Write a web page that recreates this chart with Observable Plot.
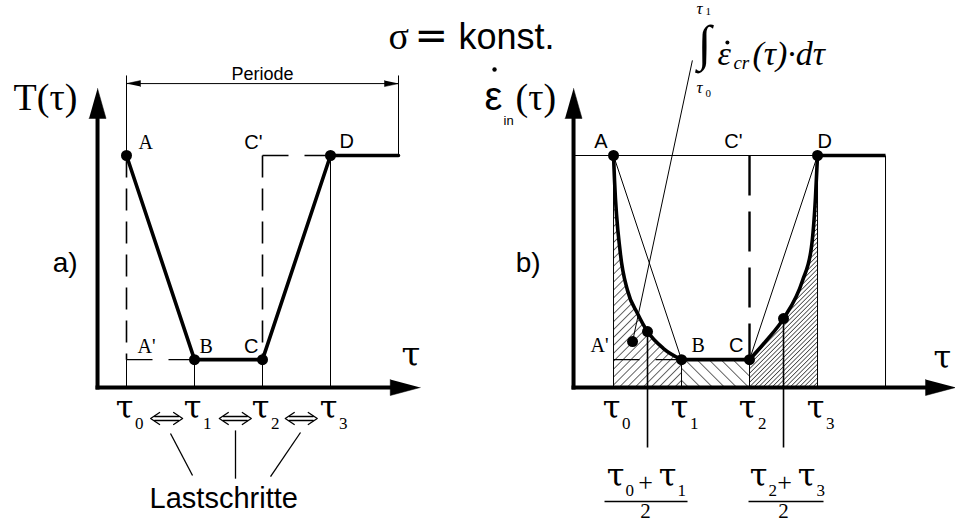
<!DOCTYPE html>
<html>
<head>
<meta charset="utf-8">
<script src="https://cdn.jsdelivr.net/npm/d3@7"></script>
<script src="https://cdn.jsdelivr.net/npm/@observablehq/plot@0.6"></script>
<style>
  body { margin: 0; background: #fff; }
  #chart { width: 955px; height: 522px; }
</style>
</head>
<body>
<div id="chart"></div>
<script>
// ---------- data ----------
// load step boundaries τ0 … τ3 and the end of one load period
const tauSteps = [0, 1, 2, 3];
const tauSubs = ["0", "1", "2", "3"];
const periodEnd = 4;

// temperature levels (normalised): high at A/D, low at B/C
const levelHigh = 1;
const levelLow = 0.12;

// corner points of the temperature cycle
const corners = ["A", "B", "C", "D"];
const cornerTau = [0, 1, 2, 3];
const cornerLevel = [1, 0.12, 0.12, 1];

// inelastic strain rate while cooling (τ0 → τ1)
const fallTau = [0, 0.015, 0.10, 0.206, 0.353, 0.5, 0.735, 1];
const fallRate = [1, 0.892, 0.58, 0.418, 0.319, 0.241, 0.168, 0.12];
// inelastic strain rate while heating (τ2 → τ3)
const riseTau = [2, 2.25, 2.5, 2.78, 2.91, 2.97, 3];
const riseRate = [0.12, 0.203, 0.297, 0.461, 0.603, 0.819, 1];

// point A' where the integral leader ends
const primeTau = 0.28;
const primeRate = 0.198;

// ---------- layout ----------
const W = 955, H = 522;
const PXT = 68, PXV = 232;           // pixels per load step / per unit level
const ORIGIN_X = 126, ORIGIN_Y = 387; // τ0 and the time axis of panel a
const shift = {a: 0, b: 7.162};       // τ origin of each panel
const axisGap = {a: 0.426, b: 0.588}; // ordinate sits left of τ0
const axisTop = 1.289;
const xTip = {a: 4.32, b: 5.03};
const dimY = 1.31, extTop = 1.345;

const SERIF = "'Liberation Serif', 'Times New Roman', serif";
const TAU = "'DejaVu Serif', serif";
const SANS = "'Liberation Sans', Arial, sans-serif";
const sx = px => px / PXT, sy = px => px / PXV;

const hi = levelHigh, lo = levelLow;
const mid1 = fallTau.indexOf(0.5), mid2 = riseTau.indexOf(2.5);

// filled arrow head, direction given in screen space
let headId = 0;
function head(tx, ty, dx, dy, len, half) {
  const id = headId++;
  const bx = tx - dx * len / PXT, by = ty + dy * len / PXV;
  const px = -dy * half / PXT, py = dx * half / PXV;
  return [
    {id, x: tx, y: ty},
    {id, x: bx + px, y: by - py},
    {id, x: bx - px, y: by + py}
  ];
}

const label = (x, y, text, o = {}) =>
  Plot.text([{x, y, text}], {x: "x", y: "y", text: "text", fill: "black", lineAnchor: "bottom", ...o});
const links = (segs, o = {}) =>
  Plot.link(segs, {x1: "x1", y1: "y1", x2: "x2", y2: "y2", stroke: "black", strokeWidth: 1, ...o});
const S = (x1, y1, x2, y2) => ({x1, y1, x2, y2});

// ---------- geometry ----------
const axes = [], heads = [], thin = [], dashA = [], dashB = [];
for (const p of ["a", "b"]) {
  const o = shift[p], ax = o - axisGap[p];
  axes.push(S(ax, 0, ax, axisTop - sy(28)), S(ax, 0, o + xTip[p] - sx(28), 0));
  heads.push(...head(ax, axisTop, 0, -1, 30, 8.5), ...head(o + xTip[p], 0, 1, 0, 30, 8));
}

// panel a
const oa = shift.a;
thin.push(
  S(oa + 0, extTop, oa + 0, hi), S(oa + periodEnd, extTop, oa + periodEnd, hi),
  S(oa + 0, dimY, oa + periodEnd, dimY),
  S(oa + 0, lo, oa + 0, 0), S(oa + 1, lo, oa + 1, 0), S(oa + 2, lo, oa + 2, 0), S(oa + 3, hi, oa + 3, 0)
);
heads.push(...head(oa + 0, dimY, -1, 0, 14, 3), ...head(oa + periodEnd, dimY, 1, 0, 14, 3));
dashA.push(S(oa + 0, hi, oa + 0, lo), S(oa + 2, hi, oa + 2, lo));
const dashH = [S(oa + 0, lo, oa + 1, lo), S(oa + 2, hi, oa + 3, hi)];

// panel b
const ob = shift.b;
thin.push(
  S(ob - axisGap.b, hi, ob + 3, hi),
  S(ob + 0, hi, ob + 0, 0), S(ob + 1, lo, ob + 1, 0), S(ob + 2, lo, ob + 2, 0),
  S(ob + 3, hi, ob + 3, 0), S(ob + periodEnd, hi, ob + periodEnd, 0),
  S(ob + 0, hi, ob + 1, lo), S(ob + 2, lo, ob + 3, hi),
  S(ob + 1.16, 1.41, ob + primeTau, primeRate)
);
dashH.push(S(ob + 0, lo, ob + 1, lo));
dashB.push(S(ob + 2, hi, ob + 2, lo));
const midLeaders = [
  S(ob + fallTau[mid1], fallRate[mid1], ob + fallTau[mid1], -sy(60)),
  S(ob + riseTau[mid2], riseRate[mid2], ob + riseTau[mid2], -sy(60))
];

// panel a: thick temperature path
const tempPath = cornerTau.map((t, i) => ({x: oa + t, y: cornerLevel[i]}))
  .concat([{x: oa + periodEnd, y: hi}]);
const cornerDots = [];
for (const o of [oa, ob]) cornerTau.forEach((t, i) => cornerDots.push({x: o + t, y: cornerLevel[i]}));
cornerDots.push(
  {x: ob + fallTau[mid1], y: fallRate[mid1]},
  {x: ob + riseTau[mid2], y: riseRate[mid2]},
  {x: ob + primeTau, y: primeRate}
);

const fall = fallTau.map((t, i) => ({x: ob + t, y: fallRate[i]}));
const rise = riseTau.map((t, i) => ({x: ob + t, y: riseRate[i]}));
const flatB = [S(ob + 1, lo, ob + 2, lo), S(ob + 3, hi, ob + periodEnd, hi)];

// load-step double arrows ⇔ between the τ labels
const stepArrowTau = [0.59, 1.60, 2.57];
const arrowShape = [
  [[-7, -6], [-16, 0], [-7, 6]],
  [[7, -6], [16, 0], [7, 6]],
  [[-12, -2], [12, -2]],
  [[-12, 2], [12, 2]]
];
const dblArrows = [];
let sid = 0;
for (const t of stepArrowTau) for (const part of arrowShape) {
  const id = sid++;
  for (const [px, py] of part) dblArrows.push({id, x: oa + t + sx(px), y: -sy(31) - sy(py)});
}
const stepLeaders = [
  S(oa + 0.647, -0.198, oa + 0.971, -0.379),
  S(oa + 1.603, -0.185, oa + 1.603, -0.393),
  S(oa + 2.559, -0.194, oa + 2.118, -0.384)
];

// fraction bars
const fracBars = [
  S(ob + 0.5 - sx(43), -sy(114), ob + 0.5 + sx(40), -sy(114)),
  S(ob + 2.5 - sx(35), -sy(114), ob + 2.5 + sx(40), -sy(114))
];

// ---------- text ----------
const texts = [];
{
  const ax = oa - axisGap.a;
  texts.push(
    label(ax, axisTop, "T(τ)", {fontFamily: SERIF, fontSize: 38, textAnchor: "start", dx: -84, dy: 22}),
    label(ax, 0.5, "a)", {fontFamily: SANS, fontSize: 28, textAnchor: "end", dx: -20}),
    label(oa + 2, dimY, "Periode", {fontFamily: SANS, fontSize: 18, dy: -4}),
    label(oa + 0, hi, corners[0], {fontFamily: SERIF, fontSize: 20, textAnchor: "start", dx: 12, dy: -7}),
    label(oa + 2, hi, "C'", {fontFamily: SANS, fontSize: 20, textAnchor: "end", dx: 0, dy: -7}),
    label(oa + 3, hi, corners[3], {fontFamily: SANS, fontSize: 20, textAnchor: "start", dx: 9, dy: -8}),
    label(oa + 0, lo, "A'", {fontFamily: SERIF, fontSize: 20, textAnchor: "start", dx: 11, dy: -7}),
    label(oa + 1, lo, corners[1], {fontFamily: SERIF, fontSize: 20, textAnchor: "start", dx: 5, dy: -7}),
    label(oa + 2, lo, corners[2], {fontFamily: SANS, fontSize: 20, textAnchor: "end", dx: -4, dy: -7}),
    label(oa + xTip.a, 0, "τ", {fontFamily: TAU, fontSize: 34, textAnchor: "end", dy: -22}),
    label(oa + 1.43, 0, "Lastschritte", {fontFamily: SANS, fontSize: 29, dy: 120})
  );
}
{
  const ax = ob - axisGap.b;
  texts.push(
    label(ax, axisTop, "ε", {fontFamily: SANS, fontSize: 40, textAnchor: "start", dx: -89, dy: 22}),
    label(ax, axisTop, "in", {fontFamily: SANS, fontSize: 13, textAnchor: "start", dx: -70, dy: 37}),
    label(ax, axisTop, "(τ)", {fontFamily: SERIF, fontSize: 38, textAnchor: "start", dx: -58, dy: 22}),
    label(ax, 0.5, "b)", {fontFamily: SANS, fontSize: 28, textAnchor: "end", dx: -33}),
    label(ob + 0, hi, corners[0], {fontFamily: SANS, fontSize: 20, textAnchor: "end", dx: -6, dy: -8}),
    label(ob + 2, hi, "C'", {fontFamily: SANS, fontSize: 20, textAnchor: "end", dx: -7, dy: -8}),
    label(ob + 3, hi, corners[3], {fontFamily: SANS, fontSize: 20, textAnchor: "start", dx: 0, dy: -8}),
    label(ob + 0, lo, "A'", {fontFamily: SERIF, fontSize: 20, textAnchor: "end", dx: -5, dy: -8}),
    label(ob + 1, lo, corners[1], {fontFamily: SERIF, fontSize: 20, textAnchor: "start", dx: 10, dy: -8}),
    label(ob + 2, lo, corners[2], {fontFamily: SANS, fontSize: 20, textAnchor: "end", dx: -6, dy: -8}),
    label(ob + xTip.b, 0, "τ", {fontFamily: TAU, fontSize: 32, textAnchor: "start", dx: -22, dy: -20})
  );
  // fractions (τ0+τ1)/2 and (τ2+τ3)/2
  const fr = (c, a, b, offs) => [
    label(c, 0, "τ", {fontFamily: TAU, fontSize: 32, dx: offs[0], dy: 98}),
    label(c, 0, a, {fontFamily: SERIF, fontSize: 17, textAnchor: "start", dx: offs[1], dy: 108}),
    label(c, 0, "+", {fontFamily: SERIF, fontSize: 26, dx: offs[2], dy: 103}),
    label(c, 0, "τ", {fontFamily: TAU, fontSize: 32, dx: offs[3], dy: 98}),
    label(c, 0, b, {fontFamily: SERIF, fontSize: 17, textAnchor: "start", dx: offs[4], dy: 108}),
    label(c, 0, "2", {fontFamily: SERIF, fontSize: 21, dx: offs[5], dy: 130})
  ];
  texts.push(...fr(ob + 0.5, tauSubs[0], tauSubs[1], [-32, -22, -2, 20, 30, -2]));
  texts.push(...fr(ob + 2.5, tauSubs[2], tauSubs[3], [-25, -15, 1, 23, 33, 0]));
  // integral of the creep rate between τ0 and τ1
  const ix = ob + 1.16, iy = 1.41;
  texts.push(
    label(ix, iy, "∫", {fontFamily: SERIF, fontSize: 50, dx: 12, dy: 0}),
    label(ix, iy, "τ", {fontFamily: SERIF, fontStyle: "italic", fontSize: 17, textAnchor: "start", dx: 4, dy: -46}),
    label(ix, iy, tauSubs[1], {fontFamily: SERIF, fontSize: 11, textAnchor: "start", dx: 13, dy: -45}),
    label(ix, iy, "τ", {fontFamily: SERIF, fontStyle: "italic", fontSize: 17, textAnchor: "start", dx: 4, dy: 33}),
    label(ix, iy, tauSubs[0], {fontFamily: SERIF, fontSize: 11, textAnchor: "start", dx: 13, dy: 37}),
    label(ix, iy, "ε", {fontFamily: SERIF, fontStyle: "italic", fontSize: 34, textAnchor: "start", dx: 25, dy: 5}),
    label(ix, iy, "cr", {fontFamily: SERIF, fontStyle: "italic", fontSize: 19, textAnchor: "start", dx: 41, dy: 9}),
    label(ix, iy, "(τ)·dτ", {fontFamily: SERIF, fontStyle: "italic", fontSize: 34, textAnchor: "start", dx: 60, dy: 5}),
    Plot.dot([{x: ix, y: iy}], {x: "x", y: "y", r: 2, fill: "black", dx: 35, dy: -18}),
    Plot.dot([{x: ax, y: axisTop}], {x: "x", y: "y", r: 2.2, fill: "black", dx: -79, dy: -19})
  );
}
// τ labels under both time axes
for (const o of [oa, ob]) tauSteps.forEach((t, i) => {
  texts.push(
    label(o + t, 0, "τ", {fontFamily: TAU, fontSize: 32, dx: -2, dy: 30}),
    label(o + t, 0, tauSubs[i], {fontFamily: SERIF, fontSize: 17, textAnchor: "start", dx: 8.5, dy: 41})
  );
});
// constant stress
texts.push(
  label(oa + periodEnd, axisTop, "σ", {fontFamily: SERIF, fontSize: 38, textAnchor: "start", dx: -10, dy: -39}),
  label(oa + periodEnd, axisTop, "=", {fontFamily: "'DejaVu Sans'", fontSize: 40, textAnchor: "start", dx: 16, dy: -39}),
  label(oa + periodEnd, axisTop, "konst.", {fontFamily: SANS, fontSize: 36, textAnchor: "start", dx: 60, dy: -39})
);

// ---------- plot ----------
const xy = {x: "x", y: "y"};
const svg = Plot.plot({
  width: W, height: H,
  margin: 0,
  x: {domain: [-ORIGIN_X / PXT, (W - ORIGIN_X) / PXT], axis: null},
  y: {domain: [(ORIGIN_Y - H) / PXV, ORIGIN_Y / PXV], axis: null},
  style: {background: "white", overflow: "visible"},
  marks: [
    // hatched areas under the strain-rate curve
    Plot.areaY(fall, {...xy, curve: "monotone-x", fill: "url(#hatch-fall)"}),
    Plot.rect([{x1: ob + 1, x2: ob + 2, y1: 0, y2: lo}], {x1: "x1", x2: "x2", y1: "y1", y2: "y2", fill: "url(#hatch-flat)"}),
    Plot.areaY(rise, {...xy, curve: "monotone-x", fill: "url(#hatch-rise)"}),
    links(thin, {strokeWidth: 1}),
    links(dashA, {strokeWidth: 1.6, strokeDasharray: "22,11"}),
    links(dashH, {strokeWidth: 1.4, strokeDasharray: "26,16"}),
    links(dashB, {strokeWidth: 2.4, strokeDasharray: "40,16"}),
    links(midLeaders, {strokeWidth: 1.6}),
    links(stepLeaders, {strokeWidth: 1.3}),
    links(fracBars, {strokeWidth: 1.5}),
    links(axes, {strokeWidth: 4, strokeLinecap: "square"}),
    Plot.line(heads, {...xy, z: "id", fill: "black", stroke: "black", strokeWidth: 0.5}),
    Plot.line(dblArrows, {...xy, z: "id", stroke: "black", strokeWidth: 1.3}),
    Plot.line(tempPath, {...xy, stroke: "black", strokeWidth: 3.6, strokeLinejoin: "round"}),
    Plot.line(fall, {...xy, curve: "monotone-x", stroke: "black", strokeWidth: 3.6}),
    Plot.line(rise, {...xy, curve: "monotone-x", stroke: "black", strokeWidth: 3.6}),
    links(flatB, {strokeWidth: 3.6}),
    Plot.dot(cornerDots, {...xy, r: 5.5, fill: "black"}),
    ...texts
  ]
});

// hatch patterns used by the areas
const ns = "http://www.w3.org/2000/svg";
const defs = document.createElementNS(ns, "defs");
for (const [id, size, angle] of [["hatch-fall", 5.6, 45], ["hatch-flat", 8.5, -45], ["hatch-rise", 3.2, 45]]) {
  const pat = document.createElementNS(ns, "pattern");
  pat.setAttribute("id", id);
  pat.setAttribute("patternUnits", "userSpaceOnUse");
  pat.setAttribute("width", size);
  pat.setAttribute("height", size);
  pat.setAttribute("patternTransform", `rotate(${angle})`);
  const ln = document.createElementNS(ns, "line");
  ln.setAttribute("x1", 0); ln.setAttribute("y1", 0);
  ln.setAttribute("x2", 0); ln.setAttribute("y2", size);
  ln.setAttribute("stroke", "black");
  ln.setAttribute("stroke-width", 1.2);
  pat.appendChild(ln);
  defs.appendChild(pat);
}
svg.insertBefore(defs, svg.firstChild);
document.getElementById("chart").appendChild(svg);
</script>
</body>
</html>
